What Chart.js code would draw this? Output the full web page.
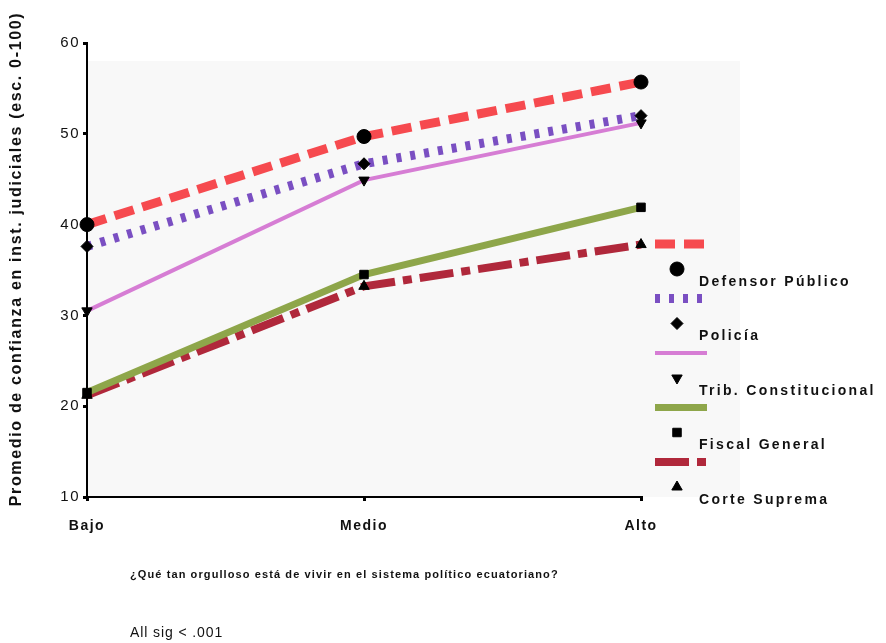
<!DOCTYPE html>
<html>
<head>
<meta charset="utf-8">
<script src="https://cdn.jsdelivr.net/npm/chart.js@4"></script>
<style>
  body { margin: 0; background: #fff; }
  #wrap { position: relative; width: 886px; height: 643px; }
  .note { position: absolute; font-family: "Liberation Sans", Arial, sans-serif; color: #111; white-space: nowrap; }
</style>
</head>
<body>
<div id="wrap">
  <canvas id="chart" width="886" height="643"></canvas>
  <div class="note" style="left:130px; top:568px; font-size:11px; font-weight:bold; letter-spacing:1.1px;">¿Qué tan orgulloso está de vivir en el sistema político ecuatoriano?</div>
  <div class="note" style="left:130px; top:624px; font-size:14px; letter-spacing:0.9px;">All sig &lt; .001</div>
</div>
<script>
// Categories and series
var categories = ['Bajo', 'Medio', 'Alto'];
var defensor = [40, 49.7, 55.7];
var policia = [37.6, 46.7, 52];
var tribunal = [30.5, 44.9, 51.2];
var fiscal = [21.5, 34.5, 41.9];
var corte = [21.2, 33.2, 37.8];
var yTicks = [10, 20, 30, 40, 50, 60];
var yTitle = 'Promedio de confianza en inst. judiciales (esc. 0-100)';

var font = '"Liberation Sans", Arial, sans-serif';

function series(label, data, color, width, dash, style, rot, radius) {
    return {
        label: label,
        data: data,
        borderColor: color,
        borderWidth: width,
        borderDash: dash,
        pointStyle: style,
        rotation: rot,
        pointRadius: radius,
        pointBackgroundColor: '#000',
        pointBorderColor: '#000',
        pointBorderWidth: 1,
        tension: 0,
        fill: false
    };
}

var datasets = [
    series('Defensor Público', defensor, '#f64a4f', 9, [20, 9], 'circle', 0, 7),
    series('Policía', policia, '#7a4fc2', 9, [5, 9], 'rectRot', 0, 6),
    series('Trib. Constitucional', tribunal, '#d67dd4', 4, [], 'triangle', 180, 6),
    series('Fiscal General', fiscal, '#8ea64a', 7, [], 'rect', 0, 6),
    series('Corte Suprema', corte, '#b0283b', 8, [34, 8, 9, 8], 'triangle', 0, 6)
];

// plot background, spaced text, y title and custom legend
var extras = {
    id: 'extras',
    beforeDraw: function(chart) {
        var ctx = chart.ctx, a = chart.chartArea;
        ctx.letterSpacing = '1.5px';
        ctx.save();
        ctx.fillStyle = '#f8f8f8';
        ctx.fillRect(a.left, a.top + 18, 740 - a.left, a.bottom - a.top - 18);
        ctx.restore();
    },
    afterDraw: function(chart) {
        var ctx = chart.ctx;
        // y axis title, stretched like the original
        ctx.save();
        ctx.font = 'bold 16px ' + font;
        ctx.letterSpacing = '0px';
        var w = ctx.measureText(yTitle).width;
        ctx.letterSpacing = ((493 - w) / (yTitle.length - 1)) + 'px';
        ctx.translate(17, 259);
        ctx.rotate(-Math.PI / 2);
        ctx.textAlign = 'center';
        ctx.textBaseline = 'middle';
        ctx.fillStyle = '#111';
        ctx.fillText(yTitle, 0, 0);
        ctx.restore();

        chart.data.datasets.forEach(function(ds, i) {
            var y0 = 244 + i * 54.5;
            ctx.save();
            ctx.strokeStyle = ds.borderColor;
            ctx.lineWidth = ds.borderWidth;
            ctx.setLineDash(ds.borderDash);
            ctx.beginPath();
            ctx.moveTo(655, y0);
            ctx.lineTo(707, y0);
            ctx.stroke();
            ctx.setLineDash([]);
            ctx.lineWidth = 1;
            ctx.fillStyle = '#000';
            ctx.strokeStyle = '#000';
            Chart.helpers.drawPoint(ctx, {
                pointStyle: ds.pointStyle, rotation: ds.rotation,
                radius: ds.pointRadius, borderWidth: 1
            }, 677, y0 + 25);
            ctx.font = 'bold 14px ' + font;
            ctx.letterSpacing = '2.3px';
            ctx.textBaseline = 'middle';
            ctx.fillStyle = '#111';
            ctx.fillText(ds.label, 699, y0 + 38);
            ctx.restore();
        });
    }
};

new Chart(document.getElementById('chart'), {
    type: 'line',
    data: { labels: categories, datasets: datasets },
    plugins: [extras],
    options: {
        responsive: false,
        animation: false,
        layout: { padding: { left: 0, top: 43, right: 245, bottom: 0 } },
        plugins: { legend: { display: false }, tooltip: { enabled: false } },
        scales: {
            x: {
                offset: false,
                border: { color: '#000', width: 2 },
                grid: { drawOnChartArea: false, color: '#000', lineWidth: 3, tickLength: 4 },
                ticks: { color: '#111', padding: 17, font: { family: font, size: 14, weight: 'bold' } },
                afterFit: function(s) { s.height = 146; }
            },
            y: {
                min: 10,
                max: 60,
                afterBuildTicks: function(s) { s.ticks = yTicks.map(function(v) { return { value: v }; }); },
                border: { color: '#000', width: 2 },
                grid: { drawOnChartArea: false, color: '#000', lineWidth: 3, tickLength: 4 },
                ticks: { color: '#111', padding: 3, font: { family: font, size: 15 } },
                afterFit: function(s) { s.width = 87; }
            }
        }
    }
});
</script>
</body>
</html>
